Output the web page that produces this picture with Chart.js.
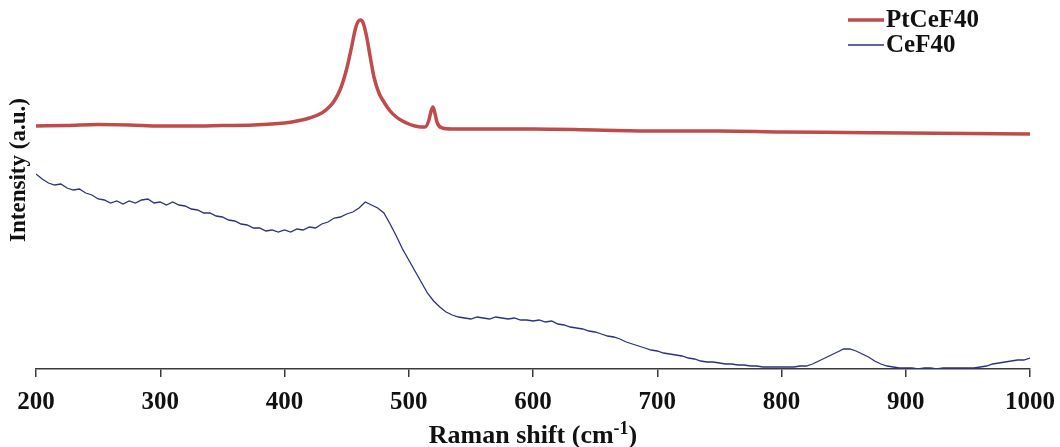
<!DOCTYPE html>
<html>
<head>
<meta charset="utf-8">
<script src="https://cdn.jsdelivr.net/npm/chart.js@4.4.1/dist/chart.umd.min.js"></script>
<style>
  html, body { margin: 0; padding: 0; background: #fff; }
  #wrap { width: 1060px; height: 447px; position: relative; }
</style>
</head>
<body>
<div id="wrap"><canvas id="raman"></canvas></div>
<script>
const ptShift = [200,225,250,275,300,325,350,375,400,410,420,430,436,440,445,450,454,457,459,
  461,463,466,469,472,476,480,485,490,495,500,505,510,513,516,518,519.5,521,523,527,535,
  560,600,650,700,750,800,850,900,950,1000];
const ptIntensity = [243,243.5,244.5,244,243,243,243.5,244,246,248,251,256,262,268,280,300,322,340,347,
  349,347,333,312,292,276,267,258,252,248,245,243,242,242,248,258,262,256,246,241,240,
  240,240,239,238,238,237,236.5,236,235.5,235];

const ceShift = [
  200,205,210,215,220,225,230,235,240,245,
  250,255,260,265,270,275,280,285,290,295,
  300,305,310,315,320,325,330,335,340,345,
  350,355,360,365,370,375,380,385,390,395,
  400,405,410,415,420,425,430,435,440,445,
  450,455,460,465,470,475,480,485,490,495,
  500,505,510,515,520,525,530,535,540,545,
  550,555,560,565,570,575,580,585,590,595,
  600,605,610,615,620,625,630,635,640,645,
  650,655,660,665,670,675,680,685,690,695,
  700,705,710,715,720,725,730,735,740,745,
  750,755,760,765,770,775,780,785,790,795,
  800,805,810,815,820,825,830,835,840,845,
  850,855,860,865,870,875,880,885,890,895,
  900,905,910,915,920,925,930,935,940,945,
  950,955,960,965,970,975,980,985,990,995,
  1000];
const ceIntensity = [
  195,190,186,184,185,181,179,180,176,174,
  170,169,166,168,165,168,166,169,170,166,
  167,164,167,164,163,160,159,156,156,153,
  152,149,148,145,144,141,141,138,139,137,
  139,137,140,139,142,141,145,147,151,152,
  155,157,161,167,164,161,156,145,133,120,
  109,98,87,76,68,62,57,54,52,51,
  50,52,51,50,52,51,50,51,49,49,
  48,49,47,48,45,44,42,41,40,38,
  37,35,33,32,30,27,25,23,21,19,
  18,16,15,14,13,11,10,8,7,7,
  6,5,5,4,4,3,3,2,2,2,
  2,2,2,3,3,5,8,11,14,17,
  20,20,18,15,12,8,5,3,2,1,
  1,1,0,1,1,0,1,1,1,1,
  1,1,2,3,5,6,7,8,9,9,
  11];

const shiftTicks = [200,300,400,500,600,700,800,900,1000];
const seriesNames = ['PtCeF40', 'CeF40'];

const COLOR_RED = '#bf4b4b';
const COLOR_NAVY = '#2c3180';
const AXIS_COLOR = '#3a3a3a';
const SERIF = '"Liberation Serif", "Times New Roman", serif';

function toPoints(xs, ys) {
  return xs.map((x, i) => ({ x: x, y: ys[i] }));
}

// Títulos de ejes y leyenda dibujados a mano (superíndice en cm-1)
const decorPlugin = {
  id: 'decor',
  afterDraw(chart) {
    const ctx = chart.ctx;
    const area = chart.chartArea;
    ctx.save();
    ctx.fillStyle = '#111';

    // título eje X
    const main = 'Raman shift (cm';
    const sup = '-1';
    const close = ')';
    ctx.font = 'bold 26px ' + SERIF;
    const wMain = ctx.measureText(main).width;
    const wClose = ctx.measureText(close).width;
    ctx.font = 'bold 18px ' + SERIF;
    const wSup = ctx.measureText(sup).width;
    const total = wMain + wSup + wClose;
    let x = (area.left + area.right) / 2 - total / 2;
    const base = 443;
    ctx.textBaseline = 'alphabetic';
    ctx.textAlign = 'left';
    ctx.font = 'bold 26px ' + SERIF;
    ctx.fillText(main, x, base);
    x += wMain;
    ctx.font = 'bold 18px ' + SERIF;
    ctx.fillText(sup, x, base - 9);
    x += wSup;
    ctx.font = 'bold 26px ' + SERIF;
    ctx.fillText(close, x, base);

    // título eje Y
    ctx.save();
    ctx.translate(19, 170);
    ctx.rotate(-Math.PI / 2);
    ctx.font = 'bold 23px ' + SERIF;
    ctx.textAlign = 'center';
    ctx.textBaseline = 'middle';
    ctx.fillText('Intensity (a.u.)', 0, 0);
    ctx.restore();

    // leyenda
    const rows = [20, 45];
    chart.data.datasets.forEach((ds, i) => {
      const y = rows[i];
      ctx.strokeStyle = ds.borderColor;
      ctx.lineWidth = ds.borderWidth;
      ctx.beginPath();
      ctx.moveTo(848, y);
      ctx.lineTo(884, y);
      ctx.stroke();
      ctx.fillStyle = '#111';
      ctx.font = 'bold 25px ' + SERIF;
      ctx.textAlign = 'left';
      ctx.textBaseline = 'middle';
      ctx.fillText(ds.label, 886, y + 1);
    });
    ctx.restore();
  }
};

new Chart(document.getElementById('raman').getContext('2d'), {
  type: 'line',
  data: {
    datasets: [
      {
        label: seriesNames[0],
        data: toPoints(ptShift, ptIntensity),
        borderColor: COLOR_RED,
        borderWidth: 3.5,
        pointRadius: 0,
        cubicInterpolationMode: 'monotone',
        fill: false
      },
      {
        label: seriesNames[1],
        data: toPoints(ceShift, ceIntensity),
        borderColor: COLOR_NAVY,
        borderWidth: 1.3,
        pointRadius: 0,
        tension: 0,
        fill: false
      }
    ]
  },
  options: {
    responsive: true,
    maintainAspectRatio: false,
    animation: false,
    layout: { padding: { left: 0, right: 30, top: 0, bottom: 0 } },
    plugins: {
      legend: { display: false },
      tooltip: { enabled: false }
    },
    scales: {
      x: {
        type: 'linear',
        min: 200,
        max: 1000,
        afterBuildTicks: s => { s.ticks = shiftTicks.map(v => ({ value: v })); },
        afterFit: s => { s.height = 78; s.paddingLeft = 0; s.paddingRight = 0; },
        ticks: {
          color: '#111',
          padding: 11,
          maxRotation: 0,
          autoSkip: false,
          callback: v => String(v),
          font: { family: SERIF, size: 25, weight: 'bold' }
        },
        grid: {
          drawOnChartArea: false,
          drawTicks: true,
          tickLength: 8,
          color: AXIS_COLOR,
          lineWidth: 1.5
        },
        border: { display: true, color: AXIS_COLOR, width: 1.5 }
      },
      y: {
        min: 0,
        max: 369,
        afterFit: s => { s.width = 36; },
        ticks: { display: false },
        grid: { display: false },
        border: { display: false }
      }
    }
  },
  plugins: [decorPlugin]
});
</script>
</body>
</html>
